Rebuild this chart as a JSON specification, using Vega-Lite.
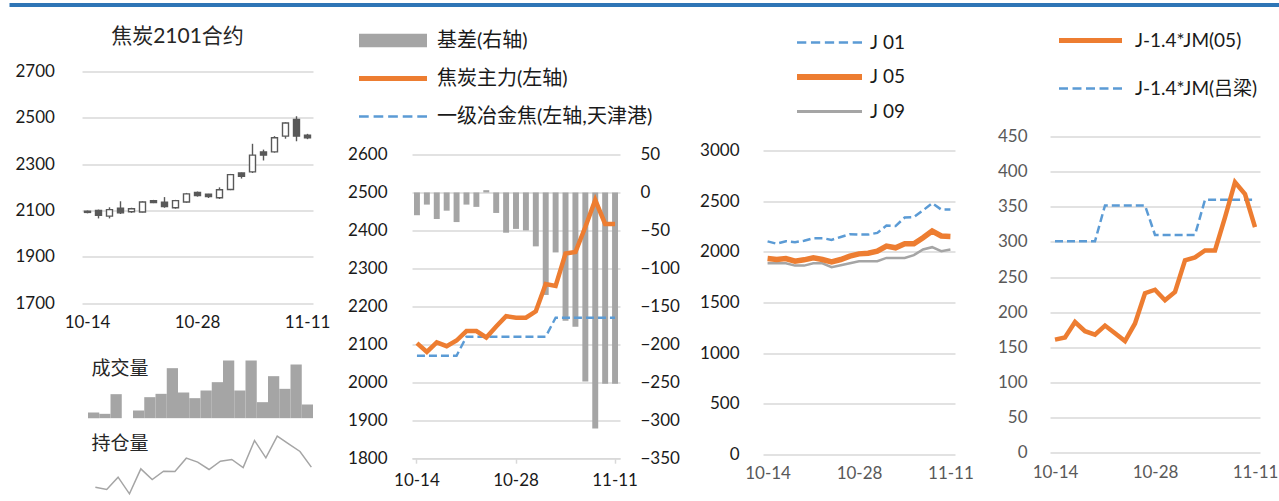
{
  "$schema": "https://vega.github.io/schema/vega-lite/v6.json",
  "padding": {"left": 7, "top": 2, "right": 0, "bottom": 0},
  "config": {
    "font": "Lato, Noto Sans CJK SC",
    "view": {"stroke": null},
    "axis": {"labelFont": "Lato, Noto Sans CJK SC", "labelFontSize": 17, "gridColor": "#D9D9D9", "gridWidth": 1.5, "titleFont": "Lato, Noto Sans CJK SC"},
    "legend": {"labelFont": "Lato, Noto Sans CJK SC", "labelColor": "#1a1a1a", "labelLimit": 600, "symbolStrokeWidth": 0, "padding": 0, "symbolOpacity": 1}
  },
  "datasets": {
    "candles": [
      {"d": "10-14", "o": 2097, "h": 2100, "l": 2088, "c": 2092},
      {"d": "10-15", "o": 2100, "h": 2104, "l": 2066, "c": 2080},
      {"d": "10-16", "o": 2076, "h": 2114, "l": 2066, "c": 2104},
      {"d": "10-19", "o": 2110, "h": 2140, "l": 2085, "c": 2090},
      {"d": "10-20", "o": 2095, "h": 2112, "l": 2090, "c": 2108},
      {"d": "10-21", "o": 2094, "h": 2140, "l": 2092, "c": 2137},
      {"d": "10-22", "o": 2143, "h": 2146, "l": 2132, "c": 2135},
      {"d": "10-23", "o": 2136, "h": 2158, "l": 2112, "c": 2117},
      {"d": "10-26", "o": 2112, "h": 2146, "l": 2108, "c": 2143},
      {"d": "10-27", "o": 2137, "h": 2176, "l": 2134, "c": 2172},
      {"d": "10-28", "o": 2178, "h": 2182, "l": 2160, "c": 2165},
      {"d": "10-29", "o": 2170, "h": 2172, "l": 2154, "c": 2160},
      {"d": "10-30", "o": 2155, "h": 2200, "l": 2150, "c": 2190},
      {"d": "11-02", "o": 2191, "h": 2258, "l": 2188, "c": 2255},
      {"d": "11-03", "o": 2262, "h": 2264, "l": 2238, "c": 2248},
      {"d": "11-04", "o": 2267, "h": 2388, "l": 2262, "c": 2339},
      {"d": "11-05", "o": 2353, "h": 2363, "l": 2316, "c": 2339},
      {"d": "11-06", "o": 2353, "h": 2421, "l": 2350, "c": 2414},
      {"d": "11-09", "o": 2421, "h": 2481, "l": 2410, "c": 2478},
      {"d": "11-10", "o": 2493, "h": 2507, "l": 2399, "c": 2421},
      {"d": "11-11", "o": 2425, "h": 2431, "l": 2408, "c": 2414}
    ],
    "vol": [
      {"d": "10-15", "v": 17}, {"d": "10-16", "v": 13}, {"d": "10-19", "v": 72}, {"d": "10-20", "v": 0},
      {"d": "10-21", "v": 23}, {"d": "10-22", "v": 63}, {"d": "10-23", "v": 73}, {"d": "10-26", "v": 150},
      {"d": "10-27", "v": 77}, {"d": "10-28", "v": 60}, {"d": "10-29", "v": 83}, {"d": "10-30", "v": 108},
      {"d": "11-02", "v": 173}, {"d": "11-03", "v": 83}, {"d": "11-04", "v": 173}, {"d": "11-05", "v": 48},
      {"d": "11-06", "v": 126}, {"d": "11-09", "v": 88}, {"d": "11-10", "v": 161}, {"d": "11-11", "v": 41}
    ],
    "oi": [
      {"d": "10-15", "v": 65}, {"d": "10-16", "v": 58}, {"d": "10-19", "v": 95}, {"d": "10-20", "v": 45},
      {"d": "10-21", "v": 120}, {"d": "10-22", "v": 88}, {"d": "10-23", "v": 113}, {"d": "10-26", "v": 112},
      {"d": "10-27", "v": 152}, {"d": "10-28", "v": 140}, {"d": "10-29", "v": 118}, {"d": "10-30", "v": 143},
      {"d": "11-02", "v": 148}, {"d": "11-03", "v": 124}, {"d": "11-04", "v": 205}, {"d": "11-05", "v": 153},
      {"d": "11-06", "v": 218}, {"d": "11-09", "v": 195}, {"d": "11-10", "v": 172}, {"d": "11-11", "v": 125}
    ],
    "p2": [
      {"d": "10-14", "basis": -30, "jt": 2103, "tj": 2070},
      {"d": "10-15", "basis": -16, "jt": 2080, "tj": 2070},
      {"d": "10-16", "basis": -35, "jt": 2105, "tj": 2070},
      {"d": "10-19", "basis": -24, "jt": 2095, "tj": 2070},
      {"d": "10-20", "basis": -39, "jt": 2110, "tj": 2070},
      {"d": "10-21", "basis": -16, "jt": 2135, "tj": 2120},
      {"d": "10-22", "basis": -19, "jt": 2135, "tj": 2120},
      {"d": "10-23", "basis": 3, "jt": 2118, "tj": 2120},
      {"d": "10-26", "basis": -27, "jt": 2147, "tj": 2120},
      {"d": "10-27", "basis": -53, "jt": 2174, "tj": 2120},
      {"d": "10-28", "basis": -48, "jt": 2170, "tj": 2120},
      {"d": "10-29", "basis": -50, "jt": 2170, "tj": 2120},
      {"d": "10-30", "basis": -71, "jt": 2187, "tj": 2120},
      {"d": "11-02", "basis": -135, "jt": 2259, "tj": 2120},
      {"d": "11-03", "basis": -79, "jt": 2254, "tj": 2170},
      {"d": "11-04", "basis": -169, "jt": 2339, "tj": 2170},
      {"d": "11-05", "basis": -177, "jt": 2343, "tj": 2170},
      {"d": "11-06", "basis": -249, "jt": 2409, "tj": 2170},
      {"d": "11-09", "basis": -311, "jt": 2480, "tj": 2170},
      {"d": "11-10", "basis": -252, "jt": 2417, "tj": 2170},
      {"d": "11-11", "basis": -252, "jt": 2417, "tj": 2170}
    ],
    "p3": [
      {"d": "10-14", "j01": 2103, "j05": 1934, "j09": 1887},
      {"d": "10-15", "j01": 2080, "j05": 1924, "j09": 1887},
      {"d": "10-16", "j01": 2105, "j05": 1934, "j09": 1887},
      {"d": "10-19", "j01": 2095, "j05": 1907, "j09": 1864},
      {"d": "10-20", "j01": 2110, "j05": 1921, "j09": 1864},
      {"d": "10-21", "j01": 2135, "j05": 1940, "j09": 1887},
      {"d": "10-22", "j01": 2135, "j05": 1924, "j09": 1887},
      {"d": "10-23", "j01": 2118, "j05": 1901, "j09": 1848},
      {"d": "10-26", "j01": 2147, "j05": 1924, "j09": 1868},
      {"d": "10-27", "j01": 2174, "j05": 1957, "j09": 1887},
      {"d": "10-28", "j01": 2170, "j05": 1980, "j09": 1907},
      {"d": "10-29", "j01": 2170, "j05": 1987, "j09": 1907},
      {"d": "10-30", "j01": 2187, "j05": 2007, "j09": 1907},
      {"d": "11-02", "j01": 2259, "j05": 2056, "j09": 1940},
      {"d": "11-03", "j01": 2254, "j05": 2040, "j09": 1940},
      {"d": "11-04", "j01": 2339, "j05": 2079, "j09": 1940},
      {"d": "11-05", "j01": 2343, "j05": 2079, "j09": 1967},
      {"d": "11-06", "j01": 2409, "j05": 2139, "j09": 2023},
      {"d": "11-09", "j01": 2480, "j05": 2205, "j09": 2046},
      {"d": "11-10", "j01": 2417, "j05": 2156, "j09": 2007},
      {"d": "11-11", "j01": 2417, "j05": 2152, "j09": 2023}
    ],
    "p4": [
      {"d": "10-14", "a": 161, "b": 301},
      {"d": "10-15", "a": 164, "b": 301},
      {"d": "10-16", "a": 186, "b": 301},
      {"d": "10-19", "a": 173, "b": 301},
      {"d": "10-20", "a": 168, "b": 301},
      {"d": "10-21", "a": 181, "b": 352},
      {"d": "10-22", "a": 170, "b": 352},
      {"d": "10-23", "a": 159, "b": 352},
      {"d": "10-26", "a": 184, "b": 352},
      {"d": "10-27", "a": 227, "b": 352},
      {"d": "10-28", "a": 232, "b": 310},
      {"d": "10-29", "a": 217, "b": 310},
      {"d": "10-30", "a": 229, "b": 310},
      {"d": "11-02", "a": 274, "b": 310},
      {"d": "11-03", "a": 278, "b": 310},
      {"d": "11-04", "a": 288, "b": 360},
      {"d": "11-05", "a": 288, "b": 360},
      {"d": "11-06", "a": 335, "b": 360},
      {"d": "11-09", "a": 385, "b": 360},
      {"d": "11-10", "a": 368, "b": 360},
      {"d": "11-11", "a": 321, "b": 360}
    ]
  },
  "columns": 1,
  "align": "none",
  "spacing": 18.5,
  "concat": [
    {
      "width": 1199, "height": 4,
      "view": {"fill": "#2E75B6", "stroke": null},
      "data": {"values": []},
      "mark": "point",
      "encoding": {
        "y": {"field": "v", "type": "quantitative", "scale": {"domain": [0, 1], "nice": false, "zero": false},
          "axis": {"values": [0.625], "labels": false, "domain": false, "grid": false, "ticks": true, "tickRound": false, "tickSize": 73, "tickWidth": 4, "tickColor": "#2E75B6", "tickCap": "butt", "title": null}}
      }
    },
    {
      "hconcat": [
        {
          "width": 231, "height": 425,
          "title": {"text": "焦炭2101合约", "fontSize": 21, "fontWeight": "normal", "color": "#262626", "anchor": "middle", "frame": "group", "dx": -20, "offset": -5, "baseline": "bottom"},
          "layer": [
            {
              "data": {"name": "candles"},
              "encoding": {
                "x": {"field": "d", "type": "ordinal", "sort": null, "scale": {"paddingInner": 0, "paddingOuter": 0},
                  "axis": {"values": ["10-14", "10-28", "11-11"], "labelAngle": 0, "offset": -193.3, "domain": false, "ticks": false, "labelPadding": 11, "labelColor": "#1a1a1a", "title": null, "grid": false}}
              },
              "layer": [
                {
                  "mark": {"type": "rule", "color": "#595959", "strokeWidth": 1.4},
                  "encoding": {
                    "y": {"field": "l", "type": "quantitative", "scale": {"domain": [866, 2700], "nice": false, "zero": false},
                      "axis": {"values": [1700, 1900, 2100, 2300, 2500, 2700], "format": "d", "grid": true, "domain": false, "ticks": true, "tickSize": 73, "tickColor": "transparent", "labelPadding": -6, "labelAlign": "left", "labelColor": "#1a1a1a", "title": null}},
                    "y2": {"field": "h"}
                  }
                },
                {
                  "mark": {"type": "bar", "size": 6, "stroke": "#595959", "strokeWidth": 1.4},
                  "encoding": {
                    "y": {"field": "o", "type": "quantitative"},
                    "y2": {"field": "c"},
                    "fill": {"condition": {"test": "datum.c > datum.o", "value": "#ffffff"}, "value": "#595959"}
                  }
                }
              ]
            },
            {
              "data": {"name": "vol"},
              "mark": {"type": "bar", "color": "#A5A5A5"},
              "encoding": {
                "x": {"field": "d", "type": "ordinal", "sort": null, "scale": {"paddingInner": 0, "paddingOuter": 0.267, "align": 1}, "axis": null},
                "y": {"field": "v", "type": "quantitative", "scale": {"domain": [-235, 1040], "nice": false, "zero": false},
                  "axis": {"orient": "left", "labels": false, "ticks": false, "domain": false, "grid": false, "title": "成交量", "titleAngle": 0, "titleAlign": "left", "titleBaseline": "middle", "titleX": 9, "titleY": 297, "titleFontSize": 19, "titleFontWeight": "normal", "titleColor": "#262626"}},
                "y2": {"datum": 0}
              }
            },
            {
              "data": {"name": "oi"},
              "mark": {"type": "line", "color": "#A5A5A5", "strokeWidth": 1.5},
              "encoding": {
                "x": {"field": "d", "type": "ordinal", "sort": null, "scale": {"type": "point", "padding": 0.66, "align": 0.89}, "axis": null},
                "y": {"field": "v", "type": "quantitative", "scale": {"domain": [37, 1312], "nice": false, "zero": false},
                  "axis": {"orient": "left", "labels": false, "ticks": false, "domain": false, "grid": false, "title": "持仓量", "titleAngle": 0, "titleAlign": "left", "titleBaseline": "middle", "titleX": 9, "titleY": 372, "titleFontSize": 19, "titleFontWeight": "normal", "titleColor": "#262626"}}
              }
            }
          ],
          "resolve": {"scale": {"x": "independent", "y": "independent"}}
        },
        {"width": 99, "height": 1, "data": {"values": []}, "mark": "point"},
        {
          "width": 208, "height": 386.7,
          "data": {"name": "p2"},
          "encoding": {
            "x": {"field": "d", "type": "ordinal", "sort": null, "scale": {"paddingInner": 0.4, "paddingOuter": 0.2},
              "axis": {"values": ["10-14", "10-28", "11-11"], "labelAngle": 0, "title": null, "grid": false, "domain": true, "domainColor": "#D9D9D9", "domainWidth": 1.5, "ticks": true, "tickColor": "#D9D9D9", "tickWidth": 1.5, "tickSize": 5, "labelPadding": 9, "labelColor": "#1a1a1a"}}
          },
          "layer": [
            {
              "mark": {"type": "bar", "color": "#A5A5A5"},
              "encoding": {
                "y": {"field": "basis", "type": "quantitative", "scale": {"domain": [-350, 159.3], "nice": false, "zero": false},
                  "axis": {"orient": "right", "values": [-350, -300, -250, -200, -150, -100, -50, 0, 50], "format": "d", "grid": false, "domain": false, "ticks": false, "labelPadding": 20, "labelColor": "#1a1a1a", "title": null}},
                "y2": {"datum": 0}
              }
            },
            {
              "layer": [
                {
                  "mark": {"type": "line", "color": "#5B9BD5", "strokeWidth": 2.4, "strokeDash": [8, 4]},
                  "encoding": {
                    "y": {"field": "tj", "type": "quantitative", "scale": {"domain": [1800, 2818.6], "nice": false, "zero": false},
                      "axis": {"orient": "left", "values": [1800, 1900, 2000, 2100, 2200, 2300, 2400, 2500, 2600], "format": "d", "grid": true, "domain": false, "ticks": false, "labelPadding": 25, "labelColor": "#1a1a1a", "title": null}}
                  }
                },
                {
                  "mark": {"type": "line", "color": "#ED7D31", "strokeWidth": 4.5},
                  "encoding": {"y": {"field": "jt", "type": "quantitative"}}
                },
                {
                  "data": {"values": []},
                  "mark": {"type": "point", "filled": true},
                  "encoding": {
                    "color": {"field": "s", "type": "nominal",
                      "scale": {"domain": ["基差(右轴)", "焦炭主力(左轴)", "一级冶金焦(左轴,天津港)"], "range": ["#A5A5A5", "#ED7D31", "#5B9BD5"]},
                      "legend": {"title": null, "orient": "none", "legendX": -53, "legendY": -45, "direction": "vertical", "symbolSize": 4624, "clipHeight": 28, "rowPadding": 10, "labelOffset": 10, "labelFontSize": 20}},
                    "shape": {"field": "s", "type": "nominal",
                      "scale": {"domain": ["基差(右轴)", "焦炭主力(左轴)", "一级冶金焦(左轴,天津港)"],
                        "range": ["M-1,-0.2H1V0.2H-1Z", "M-1,-0.07H1V0.07H-1Z", "M-1,-0.035H-0.714V0.035H-1Z M-0.571,-0.035H-0.286V0.035H-0.571Z M-0.143,-0.035H0.143V0.035H-0.143Z M0.286,-0.035H0.571V0.035H0.286Z M0.714,-0.035H1V0.035H0.714Z"]},
                      "legend": {"title": null, "orient": "none", "legendX": -53, "legendY": -45, "direction": "vertical", "symbolSize": 4624, "clipHeight": 28, "rowPadding": 10, "labelOffset": 10, "labelFontSize": 20}}
                  }
                }
              ]
            }
          ],
          "resolve": {"scale": {"y": "independent"}}
        },
        {"width": 143, "height": 1, "data": {"values": []}, "mark": "point"},
        {
          "width": 192, "height": 383,
          "data": {"name": "p3"},
          "encoding": {
            "x": {"field": "d", "type": "ordinal", "sort": null, "scale": {"type": "point", "padding": 0.5},
              "axis": {"values": ["10-14", "10-28", "11-11"], "labelAngle": 0, "title": null, "grid": false, "domain": false, "ticks": false, "labelPadding": 11, "labelColor": "#595959"}}
          },
          "layer": [
            {
              "mark": {"type": "line", "color": "#A5A5A5", "strokeWidth": 2.5},
              "encoding": {
                "y": {"field": "j09", "type": "quantitative", "scale": {"domain": [0, 3779.6], "nice": false, "zero": false},
                  "axis": {"values": [0, 500, 1000, 1500, 2000, 2500, 3000], "format": "d", "grid": true, "domain": false, "ticks": false, "labelPadding": 24, "labelColor": "#1a1a1a", "title": null}}
              }
            },
            {
              "mark": {"type": "line", "color": "#5B9BD5", "strokeWidth": 2.5, "strokeDash": [8, 4]},
              "encoding": {"y": {"field": "j01", "type": "quantitative"}}
            },
            {
              "mark": {"type": "line", "color": "#ED7D31", "strokeWidth": 5.5},
              "encoding": {"y": {"field": "j05", "type": "quantitative"}}
            },
            {
              "data": {"values": []},
              "mark": {"type": "point", "filled": true},
              "encoding": {
                "color": {"field": "s", "type": "nominal",
                  "scale": {"domain": ["J 01", "J 05", "J 09"], "range": ["#5B9BD5", "#ED7D31", "#A5A5A5"]},
                  "legend": {"title": null, "orient": "none", "legendX": 34, "legendY": -41, "direction": "vertical", "symbolSize": 4225, "clipHeight": 24, "rowPadding": 10.5, "labelOffset": 8, "labelFontSize": 19}},
                "shape": {"field": "s", "type": "nominal",
                  "scale": {"domain": ["J 01", "J 05", "J 09"],
                    "range": ["M-1,-0.037H-0.714V0.037H-1Z M-0.571,-0.037H-0.286V0.037H-0.571Z M-0.143,-0.037H0.143V0.037H-0.143Z M0.286,-0.037H0.571V0.037H0.286Z M0.714,-0.037H1V0.037H0.714Z", "M-1,-0.092H1V0.092H-1Z", "M-1,-0.046H1V0.046H-1Z"]},
                  "legend": {"title": null, "orient": "none", "legendX": 34, "legendY": -41, "direction": "vertical", "symbolSize": 4225, "clipHeight": 24, "rowPadding": 10.5, "labelOffset": 8, "labelFontSize": 19}}
              }
            }
          ]
        },
        {"width": 95, "height": 1, "data": {"values": []}, "mark": "point"},
        {
          "width": 210, "height": 381.3,
          "data": {"name": "p4"},
          "encoding": {
            "x": {"field": "d", "type": "ordinal", "sort": null, "scale": {"type": "point", "padding": 0.5},
              "axis": {"values": ["10-14", "10-28", "11-11"], "labelAngle": 0, "title": null, "grid": false, "domain": false, "ticks": false, "labelPadding": 12, "labelColor": "#595959"}}
          },
          "layer": [
            {
              "mark": {"type": "line", "color": "#5B9BD5", "strokeWidth": 2.5, "strokeDash": [8, 4]},
              "encoding": {
                "y": {"field": "b", "type": "quantitative", "scale": {"domain": [0, 542.5], "nice": false, "zero": false},
                  "axis": {"values": [0, 50, 100, 150, 200, 250, 300, 350, 400, 450], "format": "d", "grid": true, "domain": false, "ticks": false, "labelPadding": 23, "labelColor": "#595959", "title": null}}
              }
            },
            {
              "mark": {"type": "line", "color": "#ED7D31", "strokeWidth": 4.5},
              "encoding": {"y": {"field": "a", "type": "quantitative"}}
            },
            {
              "data": {"values": []},
              "mark": {"type": "point", "filled": true},
              "encoding": {
                "color": {"field": "s", "type": "nominal",
                  "scale": {"domain": ["J-1.4*JM(05)", "J-1.4*JM(吕梁)"], "range": ["#ED7D31", "#5B9BD5"]},
                  "legend": {"title": null, "orient": "none", "legendX": 9, "legendY": -45, "direction": "vertical", "symbolSize": 3969, "clipHeight": 28, "rowPadding": 20, "labelOffset": 13, "labelFontSize": 19}},
                "shape": {"field": "s", "type": "nominal",
                  "scale": {"domain": ["J-1.4*JM(05)", "J-1.4*JM(吕梁)"],
                    "range": ["M-1,-0.079H1V0.079H-1Z", "M-1,-0.038H-0.714V0.038H-1Z M-0.571,-0.038H-0.286V0.038H-0.571Z M-0.143,-0.038H0.143V0.038H-0.143Z M0.286,-0.038H0.571V0.038H0.286Z M0.714,-0.038H1V0.038H0.714Z"]},
                  "legend": {"title": null, "orient": "none", "legendX": 9, "legendY": -45, "direction": "vertical", "symbolSize": 3969, "clipHeight": 28, "rowPadding": 20, "labelOffset": 13, "labelFontSize": 19}}
              }
            }
          ]
        }
      ],
      "spacing": 0,
      "bounds": "flush",
      "resolve": {"scale": {"color": "independent", "shape": "independent"}, "legend": {"color": "independent", "shape": "independent"}}
    }
  ]
}
